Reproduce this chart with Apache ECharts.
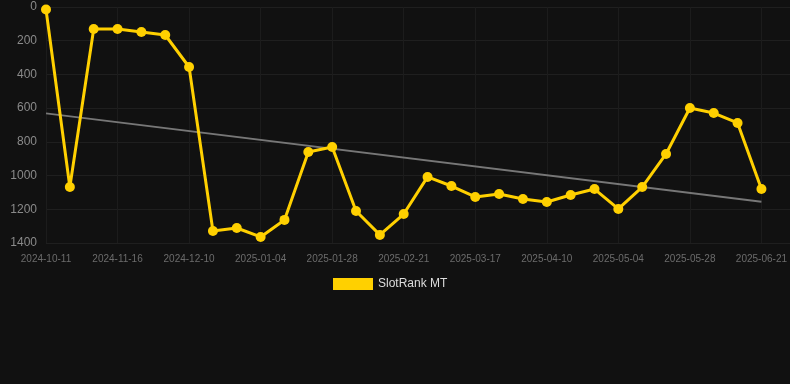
<!DOCTYPE html>
<html>
<head>
<meta charset="utf-8">
<script src="https://cdn.jsdelivr.net/npm/echarts@6/dist/echarts.min.js"></script>
<style>
html,body{margin:0;padding:0;background:#111111;}
#chart{width:790px;height:384px;}
</style>
</head>
<body>
<div id="chart"></div>
<script>
const dates = ['2024-10-11','2024-10-23','2024-11-04','2024-11-16','2024-11-24','2024-12-02','2024-12-10','2024-12-18','2024-12-26','2025-01-04','2025-01-12','2025-01-20','2025-01-28','2025-02-05','2025-02-13','2025-02-21','2025-03-01','2025-03-09','2025-03-17','2025-03-25','2025-04-02','2025-04-10','2025-04-18','2025-04-26','2025-05-04','2025-05-12','2025-05-20','2025-05-28','2025-06-05','2025-06-13','2025-06-21'];
const ranks = [15,1068,130,130,148,166,356,1329,1311,1364,1263,860,830,1210,1352,1228,1008,1062,1127,1109,1139,1157,1115,1080,1198,1068,872,599,629,688,1080];
const seriesName = 'SlotRank MT';
const yTicks = [0,200,400,600,800,1000,1200,1400];

// linear regression trend from data
const n = ranks.length;
let sx=0, sy=0, sxy=0, sxx=0;
ranks.forEach((v,i)=>{sx+=i;sy+=v;sxy+=i*v;sxx+=i*i;});
const slope = (n*sxy - sx*sy)/(n*sxx - sx*sx);
const icpt = (sy - slope*sx)/n;
const trend = ranks.map((v,i)=> (i===0 || i===n-1) ? icpt + slope*i : null);

const font = 'Liberation Sans, Arial, sans-serif';
const chart = echarts.init(document.getElementById('chart'));
chart.setOption({
  backgroundColor:'#111111',
  animation:false,
  grid:[
    {left:46,right:0,top:7,bottom:141},
    {left:46,right:28,top:7,bottom:141}
  ],
  legend:{
    data:[seriesName],
    top:278,
    left:333,
    padding:0,
    itemWidth:40,itemHeight:12,
    itemGap:10,
    icon:'rect',
    textStyle:{color:'#dddddd',fontSize:12,fontFamily:font}
  },
  xAxis:[
    {gridIndex:0,type:'value',min:0,max:1,show:false},
    {
      gridIndex:1,
      type:'category',
      data:dates,
      boundaryGap:false,
      axisLine:{show:false},
      axisTick:{show:false},
      splitLine:{show:true,interval:2,lineStyle:{color:'#1c1c1c',width:1}},
      axisLabel:{color:'#6c6c6c',fontSize:10,margin:11,interval:2,fontFamily:font}
    }
  ],
  yAxis:[
    {
      gridIndex:0,
      type:'value',
      inverse:true,
      min:yTicks[0],max:yTicks[yTicks.length-1],interval:200,
      axisLine:{show:false},
      axisTick:{show:false},
      splitLine:{show:true,lineStyle:{color:'#1f1f1f',width:1}},
      axisLabel:{color:'#8a8a8a',fontSize:12,margin:9,fontFamily:font,formatter:function(v){return String(v);}}
    },
    {
      gridIndex:1,
      type:'value',
      inverse:true,
      min:yTicks[0],max:yTicks[yTicks.length-1],interval:200,
      show:false
    }
  ],
  series:[
    {
      name:'trend',
      type:'line',
      xAxisIndex:1,yAxisIndex:1,
      data:trend,
      connectNulls:true,
      symbol:'none',
      lineStyle:{color:'#777777',width:2},
      z:1,
      silent:true
    },
    {
      name:seriesName,
      type:'line',
      xAxisIndex:1,yAxisIndex:1,
      data:ranks,
      symbol:'circle',
      symbolSize:10,
      itemStyle:{color:'#FFD000'},
      lineStyle:{color:'#FFD000',width:3},
      z:3
    }
  ]
});
</script>
</body>
</html>
